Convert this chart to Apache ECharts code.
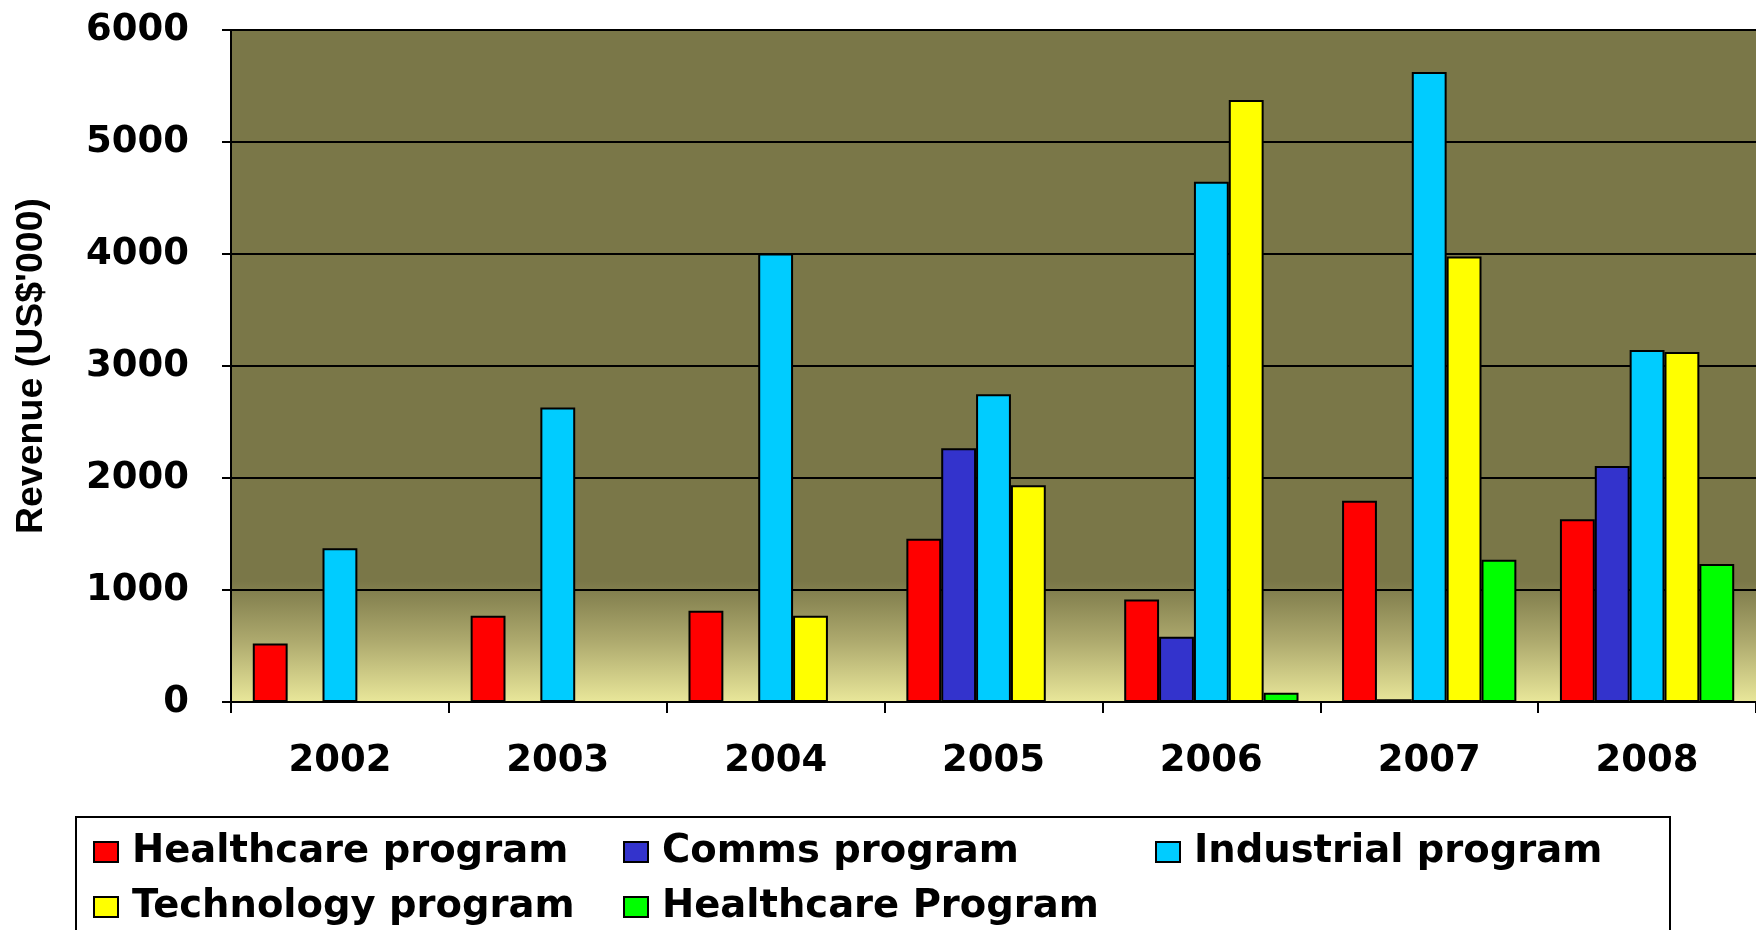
<!DOCTYPE html>
<html>
<head>
<meta charset="utf-8">
<title>Revenue by program</title>
<script src="https://cdn.jsdelivr.net/npm/echarts@6/dist/echarts.min.js"></script>
<style>
  html, body { margin: 0; padding: 0; background: #ffffff; }
  #chart { width: 1756px; height: 930px; }
</style>
</head>
<body>
<div id="chart"></div>
<script>
// Yearly revenue per program, US$'000
const years = ['2002', '2003', '2004', '2005', '2006', '2007', '2008'];
const healthcare = [522, 770, 815, 1457, 916, 1797, 1631];
const comms = [null, null, null, 2265, 582, 25, 2107];
const industrial = [1372, 2630, 4005, 2747, 4646, 5625, 3143];
const technology = [null, null, 770, 1935, 5375, 3978, 3125];
const healthcareProgram = [null, null, null, null, 83, 1269, 1233];
const yTicks = { min: 0, max: 6000, interval: 1000 };

const seriesDefs = [
  { name: 'Healthcare program', data: healthcare, color: '#FF0000' },
  { name: 'Comms program', data: comms, color: '#3333CC' },
  { name: 'Industrial program', data: industrial, color: '#00CCFF' },
  { name: 'Technology program', data: technology, color: '#FFFF00' },
  { name: 'Healthcare Program', data: healthcareProgram, color: '#00FF00' }
];

const FONT = '"DejaVu Sans", Verdana, sans-serif';
const TITLE_FONT = '"Liberation Sans", Arial, sans-serif';

// One legend block per entry so the entries sit in fixed columns
const legendSlots = [
  { left: 93, top: 832 },
  { left: 623, top: 832 },
  { left: 1155, top: 832 },
  { left: 93, top: 887 },
  { left: 623, top: 887 }
];

const chart = echarts.init(document.getElementById('chart'), null, { renderer: 'canvas' });

chart.setOption({
  animation: false,
  backgroundColor: '#ffffff',
  grid: {
    left: 231,
    right: -8,
    top: 30,
    bottom: 228,
    show: true,
    borderWidth: 0,
    backgroundColor: {
      type: 'linear', x: 0, y: 0, x2: 0, y2: 1,
      colorStops: [
        { offset: 0, color: '#7A7748' },
        { offset: 0.82, color: '#7A7748' },
        { offset: 0.91, color: '#AEAA6E' },
        { offset: 1, color: '#E9E79A' }
      ]
    }
  },
  graphic: [{
    type: 'rect',
    z: 0,
    shape: { x: 76, y: 817, width: 1594, height: 160 },
    style: { fill: '#ffffff', stroke: '#000000', lineWidth: 2 }
  }],
  legend: seriesDefs.map((s, i) => ({
    data: [s.name],
    left: legendSlots[i].left,
    top: legendSlots[i].top,
    padding: 0,
    z: 5,
    itemWidth: 24,
    itemHeight: 20,
    icon: 'rect',
    itemStyle: { borderColor: '#000000', borderWidth: 2 },
    textStyle: {
      fontFamily: FONT, fontWeight: 'bold', fontSize: 38.5,
      color: '#000000', lineHeight: 40, padding: [0, 0, 0, 9]
    },
    selectedMode: false
  })),
  xAxis: {
    type: 'category',
    data: years,
    boundaryGap: true,
    axisLine: { show: true, lineStyle: { color: '#000000', width: 2 } },
    axisTick: { show: true, length: 11, alignWithLabel: false, lineStyle: { color: '#000000', width: 2 } },
    axisLabel: {
      margin: 41,
      fontFamily: FONT, fontWeight: 'bold', fontSize: 37, color: '#000000'
    }
  },
  yAxis: {
    type: 'value',
    min: yTicks.min,
    max: yTicks.max,
    interval: yTicks.interval,
    name: "Revenue (US$'000)",
    nameLocation: 'middle',
    nameGap: 180,
    nameTextStyle: {
      fontFamily: TITLE_FONT, fontWeight: 'bold', fontSize: 37.5, color: '#000000'
    },
    axisLine: { show: true, lineStyle: { color: '#000000', width: 2 } },
    axisTick: { show: true, length: 9, lineStyle: { color: '#000000', width: 2 } },
    axisLabel: {
      margin: 42,
      padding: [10, 0, 0, 0],
      formatter: v => String(v),
      fontFamily: FONT, fontWeight: 'bold', fontSize: 37, color: '#000000'
    },
    splitLine: { show: true, lineStyle: { color: '#000000', width: 2 } }
  },
  series: seriesDefs.map(s => ({
    name: s.name,
    type: 'bar',
    data: s.data,
    barGap: '0%',
    barCategoryGap: '20%',
    itemStyle: { color: s.color, borderColor: '#000000', borderWidth: 2 }
  }))
});
</script>
</body>
</html>
